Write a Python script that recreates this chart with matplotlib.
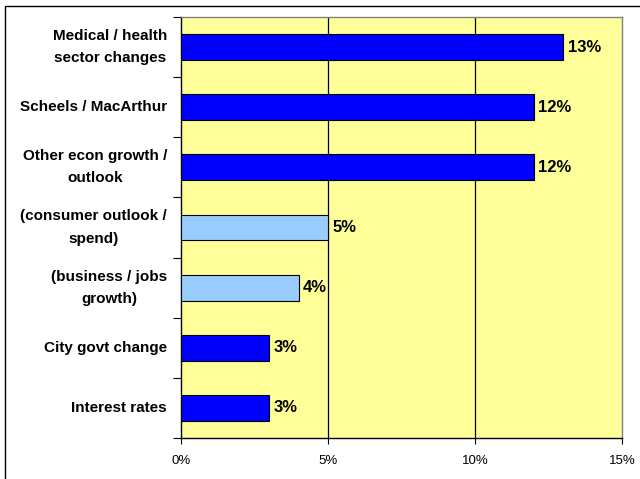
import matplotlib
matplotlib.use("Agg")
from matplotlib import pyplot as plt
from matplotlib.patches import Rectangle
from matplotlib.ticker import FixedLocator, NullFormatter

categories = [
    "Medical / health\nsector changes",
    "Scheels / MacArthur",
    "Other econ growth /\noutlook",
    "(consumer outlook /\nspend)",
    "(business / jobs\ngrowth)",
    "City govt change",
    "Interest rates",
]
values = [13, 12, 12, 5, 4, 3, 3]
sub_items = [False, False, False, True, True, False, False]
x_ticks = [0, 5, 10, 15]
x_tick_labels = ["0%", "5%", "10%", "15%"]

dark_blue = "#0000FF"
light_blue = "#99CCFF"
plot_bg = "#FFFF99"

plt.rcParams["font.family"] = ["Liberation Sans", "DejaVu Sans"]

fig = plt.figure(figsize=(6.4, 4.79), dpi=100)
ax = fig.add_axes([181 / 640, 1 - 438 / 479, 441 / 640, 421 / 479])
ax.set_facecolor(plot_bg)

# outer frame around the whole chart
fig.patches.append(Rectangle((5 / 640, -0.1), 1.0, 1 - 6 / 479 + 0.1,
                             transform=fig.transFigure, fill=False,
                             edgecolor="black", linewidth=1.0))

ypos = list(range(len(categories)))
colors = [light_blue if s else dark_blue for s in sub_items]
ax.barh(ypos, values, height=0.43, color=colors, edgecolor="black",
        linewidth=0.8, zorder=3)

for y, v in zip(ypos, values):
    ax.text(v + 0.15, y, f"{v}%", va="center", ha="left",
            fontsize=12, fontweight="bold", zorder=4)

ax.set_xlim(0, 15)
ax.set_ylim(len(categories) - 0.5, -0.5)

for gx in x_ticks[1:-1]:
    ax.axvline(gx, color="black", linewidth=0.9, zorder=1)

ax.set_xticks(x_ticks)
ax.set_xticklabels(x_tick_labels, fontsize=9.5)
ax.tick_params(axis="x", length=4, width=0.8, pad=8)

# category ticks sit on the boundaries between bars
ax.set_yticks(ypos)
ax.set_yticklabels(categories, fontsize=11, fontweight="bold",
                   multialignment="center", linespacing=1.75, va="center")
ax.tick_params(axis="y", which="major", length=0, pad=10)
ax.yaxis.set_minor_locator(FixedLocator([i - 0.5 for i in range(len(categories) + 1)]))
ax.yaxis.set_minor_formatter(NullFormatter())
ax.tick_params(axis="y", which="minor", length=6, width=0.8)

for side in ("top", "right"):
    ax.spines[side].set_color("#808080")
    ax.spines[side].set_linewidth(1.0)
for side in ("left", "bottom"):
    ax.spines[side].set_color("black")
    ax.spines[side].set_linewidth(1.0)

fig.savefig("out.png", dpi=100)
